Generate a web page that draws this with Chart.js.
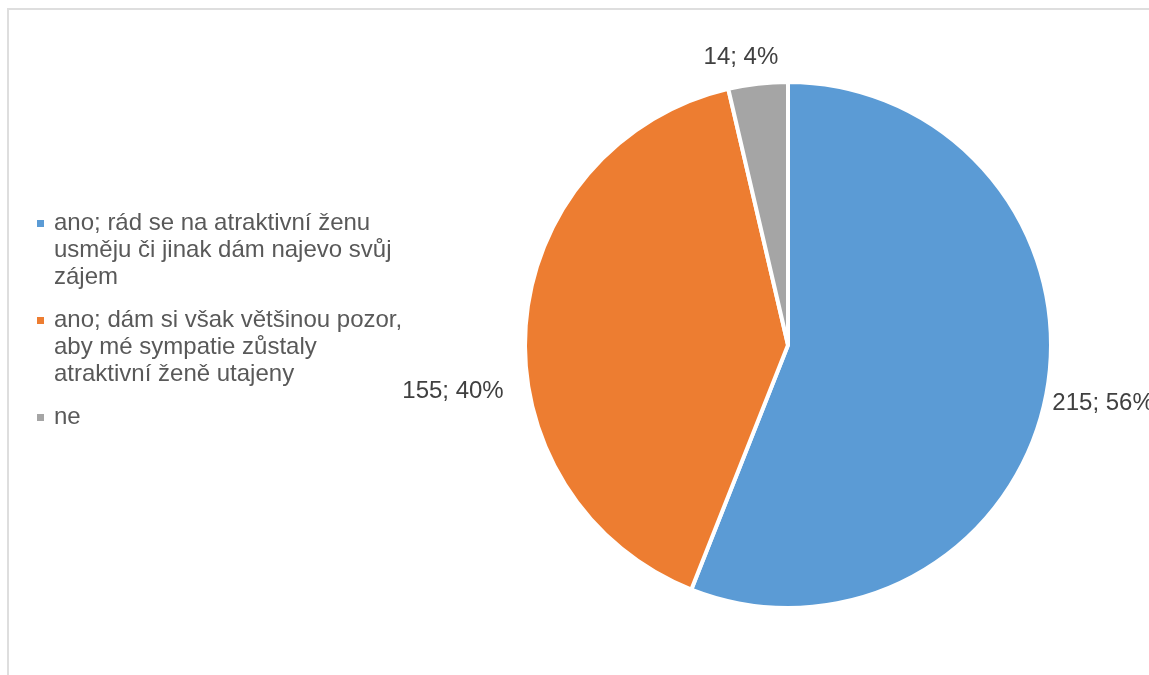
<!DOCTYPE html>
<html>
<head>
<meta charset="utf-8">
<script src="https://cdn.jsdelivr.net/npm/chart.js@4"></script>
<style>
    html, body { margin: 0; padding: 0; background: #fff; overflow: hidden; }
    .frame {
        position: absolute; left: 7px; top: 8px; width: 2000px; height: 2000px;
        border-left: 2px solid #dedede; border-top: 2px solid #dedede;
    }
    #answers { position: absolute; left: 0; top: 0; }
</style>
</head>
<body>
<div class="frame"></div>
<canvas id="answers" width="1149" height="675"></canvas>
<script>
// odpovědi - každá položka legendy rozdělená na řádky
const categories = [
    ['ano; rád se na atraktivní ženu', 'usměju či jinak dám najevo svůj', 'zájem'],
    ['ano; dám si však většinou pozor,', 'aby mé sympatie zůstaly', 'atraktivní ženě utajeny'],
    ['ne']
];
const counts = [215, 155, 14];
const percents = [56, 40, 4];
const colors = ['#5B9BD5', '#ED7D31', '#A5A5A5'];

const FONT = '24px "Liberation Sans", Arial, sans-serif';

// popisky hodnot vedle výsečí + legenda vlevo
const labelsPlugin = {
    id: 'pieLabels',
    afterDatasetsDraw(chart) {
        const ctx = chart.ctx;
        const arcs = chart.getDatasetMeta(0).data;
        ctx.save();
        ctx.font = FONT;
        ctx.fillStyle = '#404040';
        ctx.textBaseline = 'middle';
        arcs.forEach((arc, i) => {
            const mid = (arc.startAngle + arc.endAngle) / 2;
            const r = arc.outerRadius;
            const text = counts[i] + '; ' + percents[i] + '%';
            let x = arc.x + Math.cos(mid) * r;
            let y = arc.y + Math.sin(mid) * r;
            if (i === 0) {
                ctx.textAlign = 'left';
                x += 6; y += 9;
            } else if (i === 1) {
                ctx.textAlign = 'right';
                x -= 22; y += 66;
            } else {
                ctx.textAlign = 'center';
                x -= 17; y -= 26;
            }
            ctx.fillText(text, x, y);
        });

        // legenda
        const lineH = 27;
        const gap = 16;
        let y = 223;
        ctx.fillStyle = '#595959';
        ctx.textAlign = 'left';
        categories.forEach((lines, i) => {
            ctx.save();
            ctx.fillStyle = colors[i];
            ctx.fillRect(37, y - 3, 7, 7);
            ctx.restore();
            lines.forEach((line, j) => {
                ctx.fillText(line, 54, y + j * lineH);
            });
            y += lines.length * lineH + gap;
        });
        ctx.restore();
    }
};

const ctx = document.getElementById('answers').getContext('2d');
const answersChart = new Chart(ctx, {
    type: 'pie',
    data: {
        labels: categories,
        datasets: [{
            data: counts,
            backgroundColor: colors,
            borderColor: '#ffffff',
            borderWidth: 4
        }]
    },
    options: {
        responsive: false,
        animation: false,
        layout: {
            padding: { left: 523, right: 96, top: 80, bottom: 65 }
        },
        plugins: {
            legend: { display: false },
            tooltip: { enabled: false }
        }
    },
    plugins: [labelsPlugin]
});
</script>
</body>
</html>
